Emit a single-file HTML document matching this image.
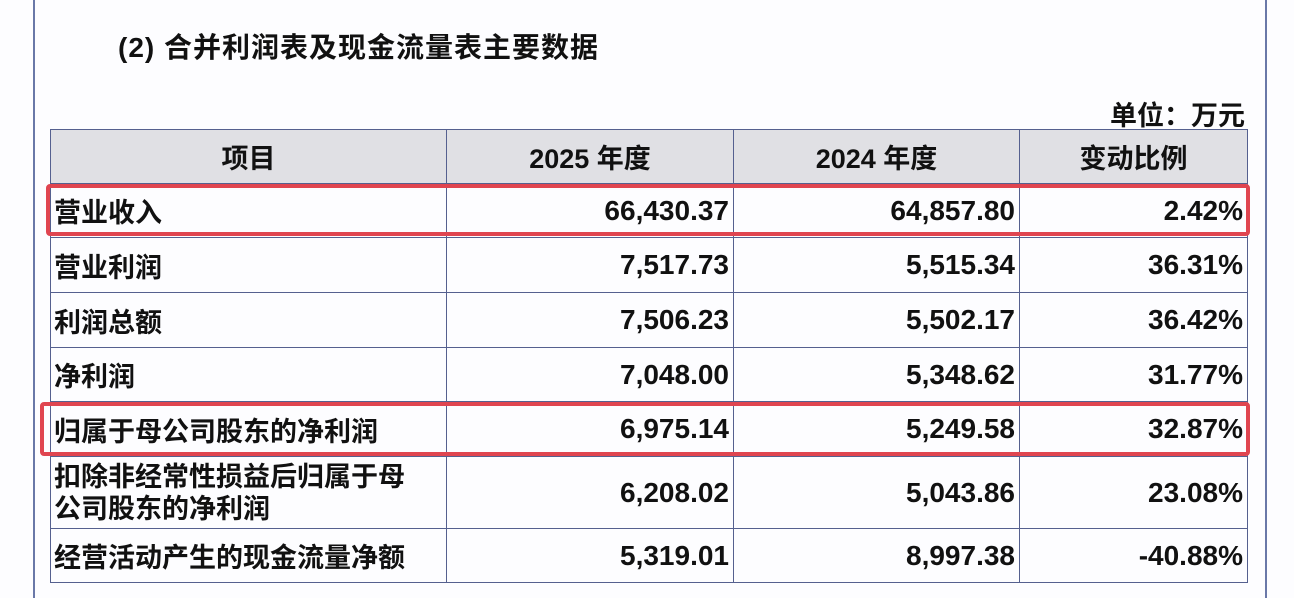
<!DOCTYPE html>
<html><head><meta charset="utf-8"><style>
body{margin:0;width:1294px;height:598px;background:#fdfdff;position:relative;overflow:hidden;font-family:"Liberation Sans","Noto Sans CJK SC",sans-serif;font-weight:bold;color:#111}
.vl{position:absolute;top:0;height:598px;width:2px;background:#6a78a8}
.t{position:absolute;white-space:nowrap}
table{position:absolute;left:50px;top:129px;border-collapse:collapse;width:1197px;table-layout:fixed}
td{border:1.5px solid #55608f;font-size:27px;padding:0 3px;white-space:nowrap;overflow:visible}
tr.h td{background:#e0e0e4;text-align:center}
td.n{text-align:right;padding-right:4px;font-size:28px}
.box{position:absolute;border:4px solid #e04550;border-radius:4px}
</style></head><body>
<div class="vl" style="left:33px"></div>
<div class="vl" style="left:1265px"></div>
<div class="t" style="left:118px;top:26px;font-size:28px;letter-spacing:1px">(2) 合并利润表及现金流量表主要数据</div>
<div class="t" style="left:1110px;top:94px;font-size:27px">单位：万元</div>
<table>
<col style="width:396px"><col style="width:287px"><col style="width:286px"><col style="width:228px">
<tr class="h" style="height:54px"><td>项目</td><td>2025 年度</td><td>2024 年度</td><td>变动比例</td></tr>
<tr style="height:54px"><td>营业收入</td><td class="n">66,430.37</td><td class="n">64,857.80</td><td class="n">2.42%</td></tr>
<tr style="height:55px"><td>营业利润</td><td class="n">7,517.73</td><td class="n">5,515.34</td><td class="n">36.31%</td></tr>
<tr style="height:55px"><td>利润总额</td><td class="n">7,506.23</td><td class="n">5,502.17</td><td class="n">36.42%</td></tr>
<tr style="height:54px"><td>净利润</td><td class="n">7,048.00</td><td class="n">5,348.62</td><td class="n">31.77%</td></tr>
<tr style="height:55px"><td>归属于母公司股东的净利润</td><td class="n">6,975.14</td><td class="n">5,249.58</td><td class="n">32.87%</td></tr>
<tr style="height:72px"><td style="line-height:32px">扣除非经常性损益后归属于母<br>公司股东的净利润</td><td class="n">6,208.02</td><td class="n">5,043.86</td><td class="n">23.08%</td></tr>
<tr style="height:54px"><td>经营活动产生的现金流量净额</td><td class="n">5,319.01</td><td class="n">8,997.38</td><td class="n">-40.88%</td></tr>
</table>
<div class="box" style="left:46px;top:184px;width:1196px;height:44px"></div>
<div class="box" style="left:40px;top:402px;width:1202px;height:46px"></div>
</body></html>
